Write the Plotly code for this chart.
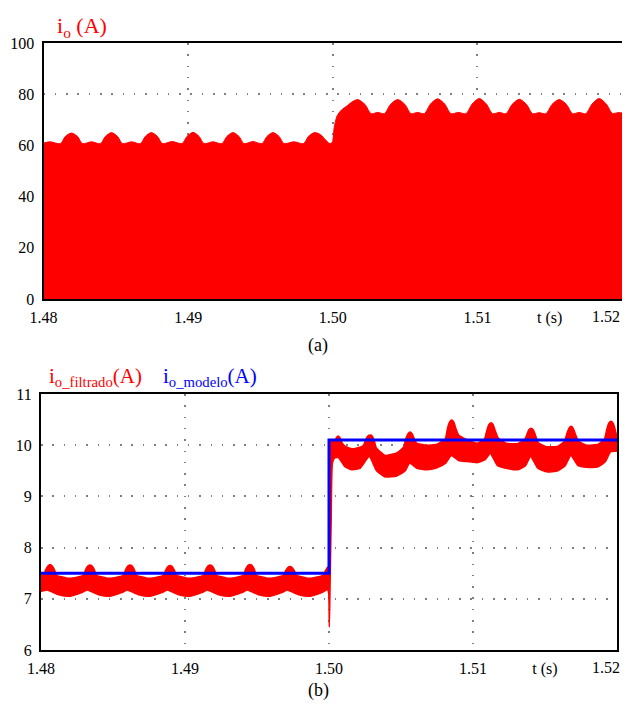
import plotly.graph_objects as go

# ---------------- data: panel (a)  i_o envelope (A) ----------------
t_top = [
    1.48000, 1.48045, 1.48117, 1.48151, 1.48193, 1.48235, 1.48269,
    1.48332, 1.48394, 1.48428, 1.48470, 1.48512, 1.48546,
    1.48608, 1.48670, 1.48704, 1.48746, 1.48788, 1.48822,
    1.48890, 1.48958, 1.48992, 1.49034, 1.49076, 1.49110,
    1.49172, 1.49234, 1.49268, 1.49310, 1.49352, 1.49386,
    1.49449, 1.49511, 1.49545, 1.49587, 1.49629, 1.49663,
    1.49731, 1.49798, 1.49832, 1.49874, 1.49916, 1.49950, 1.49976,
    1.49995, 1.50010, 1.50030, 1.50060, 1.50100, 1.50140, 1.50173, 1.50223, 1.50265,
    1.50311, 1.50357, 1.50399, 1.50449, 1.50499, 1.50541,
    1.50587, 1.50633, 1.50675, 1.50725, 1.50775, 1.50817,
    1.50869, 1.50921, 1.50963, 1.51013, 1.51063, 1.51105,
    1.51152, 1.51198, 1.51240, 1.51290, 1.51340, 1.51382,
    1.51428, 1.51474, 1.51516, 1.51566, 1.51616, 1.51658,
    1.51704, 1.51750, 1.51792, 1.51842, 1.51892, 1.51934, 1.51970, 1.52000,
]
i_top = [
    60.9, 61.4, 60.7, 63.5, 64.8, 63.5, 60.7,
    61.4, 60.7, 63.5, 65.0, 63.5, 60.7,
    61.4, 60.7, 63.5, 65.0, 63.5, 60.7,
    61.5, 60.7, 63.5, 65.1, 63.5, 60.7,
    61.4, 60.7, 63.5, 65.0, 63.5, 60.7,
    61.5, 60.7, 63.5, 65.0, 63.5, 60.7,
    61.4, 60.7, 63.5, 65.0, 64.2, 62.2, 60.8,
    61.0, 67.0, 71.5, 73.8, 75.5, 77.2, 77.9, 76.0, 72.4,
    72.9, 72.4, 76.0, 77.9, 76.0, 72.4,
    72.9, 72.4, 76.1, 78.2, 76.1, 72.4,
    72.9, 72.4, 76.1, 78.3, 76.1, 72.4,
    72.9, 72.4, 76.0, 78.0, 76.0, 72.4,
    72.8, 72.4, 76.0, 77.9, 76.0, 72.4,
    72.9, 72.4, 76.1, 78.3, 76.1, 72.5, 72.8, 72.7,
]

# ---------------- data: panel (b)  i_o_filtrado band (A) ----------------
t_up = [
    1.48000, 1.48018, 1.48033, 1.48048, 1.48063, 1.48078, 1.48093, 1.48108, 1.48193, 1.48263,
    1.48295, 1.48310, 1.48325, 1.48340, 1.48355, 1.48370, 1.48385, 1.48470, 1.48540,
    1.48573, 1.48588, 1.48603, 1.48618, 1.48633, 1.48648, 1.48663, 1.48748, 1.48818,
    1.48851, 1.48866, 1.48881, 1.48896, 1.48911, 1.48926, 1.48941, 1.49026, 1.49096,
    1.49129, 1.49144, 1.49159, 1.49174, 1.49189, 1.49204, 1.49219, 1.49304, 1.49374,
    1.49406, 1.49421, 1.49436, 1.49451, 1.49466, 1.49481, 1.49496, 1.49581, 1.49651,
    1.49684, 1.49699, 1.49714, 1.49729, 1.49744, 1.49759, 1.49774, 1.49859, 1.49929,
    1.49962, 1.49977, 1.49992, 1.50001, 1.50004, 1.50008, 1.50020,
    1.50040, 1.50052, 1.50063, 1.50075, 1.50088, 1.50110, 1.50160, 1.50215,
    1.50240, 1.50255, 1.50270, 1.50285, 1.50300, 1.50315, 1.50330, 1.50390, 1.50470, 1.50518,
    1.50533, 1.50548, 1.50563, 1.50578, 1.50593, 1.50608, 1.50670, 1.50750, 1.50807,
    1.50822, 1.50837, 1.50852, 1.50867, 1.50882, 1.50900, 1.50950, 1.51030, 1.51080,
    1.51095, 1.51110, 1.51125, 1.51140, 1.51155, 1.51175, 1.51230, 1.51310, 1.51358,
    1.51373, 1.51388, 1.51403, 1.51418, 1.51433, 1.51453, 1.51510, 1.51590, 1.51636,
    1.51651, 1.51666, 1.51681, 1.51696, 1.51711, 1.51731, 1.51790, 1.51870, 1.51913,
    1.51928, 1.51943, 1.51958, 1.51973, 1.51988, 1.52000,
]
i_up = [
    7.47, 7.46, 7.57, 7.64, 7.67, 7.64, 7.57, 7.46, 7.40, 7.43,
    7.46, 7.57, 7.64, 7.66, 7.64, 7.57, 7.46, 7.40, 7.43,
    7.46, 7.57, 7.64, 7.66, 7.64, 7.57, 7.46, 7.40, 7.43,
    7.46, 7.56, 7.63, 7.65, 7.63, 7.56, 7.46, 7.40, 7.43,
    7.46, 7.57, 7.64, 7.66, 7.64, 7.57, 7.46, 7.40, 7.43,
    7.46, 7.58, 7.65, 7.67, 7.65, 7.58, 7.46, 7.40, 7.43,
    7.46, 7.55, 7.61, 7.63, 7.61, 7.55, 7.46, 7.40, 7.43,
    7.47, 7.56, 7.62, 7.55, 8.80, 10.00, 10.10,
    10.08, 10.15, 10.18, 10.15, 10.06, 9.98, 9.93, 9.96,
    10.00, 10.11, 10.18, 10.20, 10.18, 10.08, 9.94, 9.80, 9.85, 9.96,
    10.12, 10.22, 10.26, 10.22, 10.12, 10.04, 10.00, 10.02, 10.12,
    10.32, 10.45, 10.49, 10.45, 10.32, 10.20, 10.12, 10.04, 10.12,
    10.28, 10.40, 10.44, 10.40, 10.28, 10.14, 10.04, 10.03, 10.10,
    10.20, 10.30, 10.33, 10.30, 10.20, 10.05, 9.97, 9.98, 10.08,
    10.22, 10.33, 10.37, 10.33, 10.22, 10.08, 10.00, 10.02, 10.12,
    10.30, 10.43, 10.47, 10.43, 10.30, 10.15,
]
t_lo = [
    1.48000, 1.48043, 1.48123, 1.48203, 1.48283,
    1.48320, 1.48400, 1.48480, 1.48560,
    1.48598, 1.48678, 1.48758, 1.48838,
    1.48876, 1.48956, 1.49036, 1.49116,
    1.49154, 1.49234, 1.49314, 1.49394,
    1.49431, 1.49511, 1.49591, 1.49671,
    1.49709, 1.49789, 1.49869, 1.49949,
    1.49990, 1.49998, 1.50002, 1.50006, 1.50015, 1.50024,
    1.50040, 1.50065, 1.50110, 1.50160, 1.50215,
    1.50280, 1.50330, 1.50390, 1.50470, 1.50530,
    1.50560, 1.50610, 1.50680, 1.50750, 1.50810,
    1.50850, 1.50900, 1.50960, 1.51030, 1.51085,
    1.51120, 1.51170, 1.51230, 1.51310, 1.51365,
    1.51400, 1.51450, 1.51510, 1.51590, 1.51640,
    1.51680, 1.51730, 1.51790, 1.51870, 1.51920,
    1.51955, 1.52000,
]
i_lo = [
    7.14, 7.17, 7.08, 7.05, 7.12,
    7.17, 7.08, 7.05, 7.12,
    7.17, 7.08, 7.05, 7.12,
    7.17, 7.08, 7.05, 7.12,
    7.17, 7.08, 7.05, 7.12,
    7.17, 7.08, 7.05, 7.12,
    7.17, 7.08, 7.05, 7.12,
    7.18, 7.10, 6.45, 7.00, 8.50, 9.65,
    9.75, 9.76, 9.58, 9.52, 9.55,
    9.78, 9.50, 9.38, 9.40, 9.50,
    9.65, 9.55, 9.52, 9.56, 9.65,
    9.80, 9.70, 9.68, 9.66, 9.72,
    9.84, 9.60, 9.55, 9.52, 9.60,
    9.78, 9.55, 9.48, 9.50, 9.60,
    9.80, 9.60, 9.57, 9.58, 9.68,
    9.87, 9.88,
]

# ---------------- data: panel (b)  i_o_modelo (A) ----------------
t_model = [1.48, 1.50, 1.50, 1.52]
i_model = [7.5, 7.5, 10.1, 10.1]

# ---------------- axis ticks ----------------
x_tickvals = [1.48, 1.49, 1.50, 1.51, 1.515]
x_ticktext = ["1.48", "1.49", "1.50", "1.51", "t (s)"]
x_end_label = "1.52"
x_gridvals = [1.49, 1.50, 1.51]
y_top_ticks = [0, 20, 40, 60, 80, 100]
y_bot_ticks = [6, 7, 8, 9, 10, 11]

RED = "#ff0000"
BLUE = "#0000ff"
FONT = "Liberation Serif"
# the page body has an 8px margin; the figure is sized to fit the window
OFF = 8
W, H = 630 - OFF, 706 - OFF


def px(x):
    return (x - OFF) / W


def py(y):
    return 1 - (y - OFF) / H


fig = go.Figure()

fig.add_trace(go.Scatter(
    x=t_top, y=i_top, mode="lines", fill="tozeroy", fillcolor=RED,
    line=dict(color=RED, width=1, shape="spline", smoothing=0.8),
    xaxis="x", yaxis="y", showlegend=False, hoverinfo="skip"))

fig.add_trace(go.Scatter(
    x=t_lo, y=i_lo, mode="lines", line=dict(color=RED, width=1.5, shape="spline", smoothing=0.5),
    xaxis="x2", yaxis="y2", showlegend=False, hoverinfo="skip"))
fig.add_trace(go.Scatter(
    x=t_up, y=i_up, mode="lines", fill="tonexty", fillcolor=RED,
    line=dict(color=RED, width=1.5, shape="spline", smoothing=0.4),
    xaxis="x2", yaxis="y2", showlegend=False, hoverinfo="skip"))
fig.add_trace(go.Scatter(
    x=t_model, y=i_model, mode="lines", line=dict(color=BLUE, width=3),
    xaxis="x2", yaxis="y2", showlegend=False, hoverinfo="skip"))

grid = dict(gridcolor="#7f7f7f", griddash="1.5px,9.8px", gridwidth=1.5)


def xax(domain, anchor):
    return dict(domain=domain, anchor=anchor, range=[1.48, 1.52], automargin=False,
                tickmode="array", tickvals=x_tickvals, ticktext=x_ticktext,
                showgrid=False, zeroline=False, ticks="",
                showline=True, mirror=True, linecolor="black", linewidth=2.2,
                tickfont=dict(family=FONT, size=16, color="black"),
                ticklabelstandoff=3,
                minor=dict(tickmode="array", tickvals=x_gridvals, ticks="",
                           showgrid=True, **grid))


def yax(domain, anchor, rng, ticks):
    return dict(domain=domain, anchor=anchor, range=rng, automargin=False,
                tickmode="array", tickvals=ticks, showgrid=True, **grid,
                zeroline=False, ticks="",
                showline=True, mirror=True, linecolor="black", linewidth=2.2,
                tickfont=dict(family=FONT, size=16, color="black"),
                ticklabelstandoff=4)


ann_font = dict(family=FONT, size=16, color="black")
fig.update_layout(
    width=W, height=H, margin=dict(l=0, r=0, t=0, b=0, autoexpand=False),
    paper_bgcolor="white", plot_bgcolor="white",
    xaxis=xax([px(43.5), px(622)], "y"),
    yaxis=yax([py(299), py(43)], "x", [0, 100], y_top_ticks),
    xaxis2=xax([px(41), px(617)], "y2"),
    yaxis2=yax([py(650), py(394)], "x2", [6, 11], y_bot_ticks),
    annotations=[
        dict(text=x_end_label, x=px(622), y=py(316), xref="paper", yref="paper",
             xanchor="right", yanchor="middle", showarrow=False, font=ann_font),
        dict(text=x_end_label, x=px(622), y=py(667), xref="paper", yref="paper",
             xanchor="right", yanchor="middle", showarrow=False, font=ann_font),
        dict(text="i<sub>o</sub> (A)", x=px(55), y=py(27), xref="paper", yref="paper",
             xanchor="left", yanchor="middle", showarrow=False,
             font=dict(family=FONT, size=22, color=RED)),
        dict(text="i<sub>o_filtrado</sub>(A)", x=px(47), y=py(377), xref="paper", yref="paper",
             xanchor="left", yanchor="middle", showarrow=False,
             font=dict(family=FONT, size=21, color=RED)),
        dict(text="i<sub>o_modelo</sub>(A)", x=px(161), y=py(377), xref="paper", yref="paper",
             xanchor="left", yanchor="middle", showarrow=False,
             font=dict(family=FONT, size=21, color=BLUE)),
        dict(text="(a)", x=px(318), y=py(345), xref="paper", yref="paper",
             xanchor="center", yanchor="middle", showarrow=False,
             font=dict(family=FONT, size=18, color="black")),
        dict(text="(b)", x=px(318), y=py(690), xref="paper", yref="paper",
             xanchor="center", yanchor="middle", showarrow=False,
             font=dict(family=FONT, size=18, color="black")),
    ],
)

fig.write_html("out.html")
